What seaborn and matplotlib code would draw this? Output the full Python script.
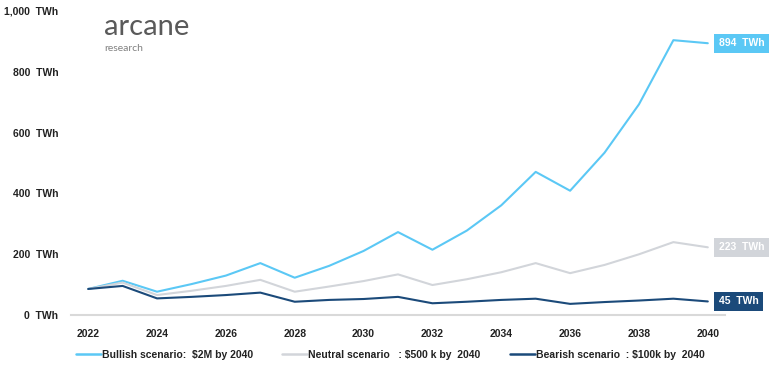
import matplotlib
matplotlib.use("Agg")
import matplotlib.pyplot as plt
from matplotlib.lines import Line2D
import seaborn as sns
import pandas as pd

years = list(range(2022, 2041))
bullish = [86, 113, 77, 102, 130, 171, 123, 162, 211, 273, 215, 278, 361, 471, 409, 534, 693, 904, 894]
neutral = [86, 107, 66, 80, 96, 116, 77, 94, 112, 134, 99, 118, 141, 171, 138, 165, 200, 240, 223]
bearish = [86, 96, 55, 60, 66, 74, 44, 50, 53, 60, 39, 44, 50, 54, 37, 43, 48, 54, 45]

series_names = ["Bullish", "Neutral", "Bearish"]
legend_labels = ["Bullish scenario:  $2M by 2040",
                 "Neutral scenario   : $500 k by  2040",
                 "Bearish scenario  : $100k by  2040"]
end_labels = ["894  TWh", "223  TWh", "45  TWh"]
colors = ["#5BC8F5", "#D2D5DA", "#1B4A7A"]
yticks = [0, 200, 400, 600, 800, 1000]
ytick_labels = ["0  TWh", "200  TWh", "400  TWh", "600  TWh", "800  TWh", "1,000  TWh"]
xticks = list(range(2022, 2041, 2))

sns.set_theme(style="white")
plt.rcParams["font.family"] = ["Liberation Sans", "DejaVu Sans"]

df = pd.DataFrame({
    "year": years * 3,
    "value": bullish + neutral + bearish,
    "scenario": [n for n in series_names for _ in years],
})

fig = plt.figure(figsize=(7.8, 3.66), dpi=100)
ax = fig.add_axes([0.091, 0.139, 0.8385, 0.831])

sns.lineplot(data=df, x="year", y="value", hue="scenario", palette=colors,
             hue_order=series_names, linewidth=1.5, ax=ax, legend=False)

ax.set_xlim(2021.5, 2040.5)
ax.set_ylim(0, 1000)
ax.set_xlabel("")
ax.set_ylabel("")
for s in ["left", "right", "top"]:
    ax.spines[s].set_visible(False)
ax.spines["bottom"].set_color("#D9D9D9")
ax.spines["bottom"].set_linewidth(1.5)

ax.set_yticks(yticks)
ax.set_yticklabels(ytick_labels, fontsize=7.5, fontweight="bold", color="#222222")
ax.set_xticks(xticks)
ax.set_xticklabels([str(x) for x in xticks], fontsize=7.5, fontweight="bold", color="#222222")
ax.set_xticks([x - 0.5 for x in xticks], minor=True)
ax.tick_params(axis="x", which="major", length=0, pad=10)
ax.tick_params(axis="x", which="minor", length=4, width=1, color="#D9D9D9", direction="out")
ax.tick_params(axis="y", length=0, pad=9)
ax.grid(False)

finals = [bullish[-1], neutral[-1], bearish[-1]]
for v, lab, c in zip(finals, end_labels, colors):
    ax.annotate(lab, xy=(years[-1], v), xytext=(8, 0), textcoords="offset points",
                ha="left", va="center", fontsize=7.5, fontweight="bold", color="white",
                bbox=dict(boxstyle="square,pad=0.45", fc=c, ec="none"),
                annotation_clip=False)

handles = [Line2D([0], [0], color=c, lw=1.8) for c in colors]
fig.legend(handles, legend_labels, loc="center", bbox_to_anchor=(0.5, 0.03),
           ncol=3, frameon=False, handlelength=2.4, handletextpad=0.1,
           columnspacing=2.8, prop={"weight": "bold", "size": 7.5})
for t in fig.legends[0].get_texts():
    t.set_color("#222222")

fig.text(0.133, 0.905, "arcane", fontsize=21, color="#5A5A5A", family=["Lato", "DejaVu Sans"],
         fontweight="normal", ha="left", va="baseline")
fig.text(0.134, 0.862, "research", fontsize=7.5, color="#808080", family=["Lato", "DejaVu Sans"],
         fontweight="normal", ha="left", va="baseline")

fig.savefig("out.png", dpi=100, facecolor="white")
